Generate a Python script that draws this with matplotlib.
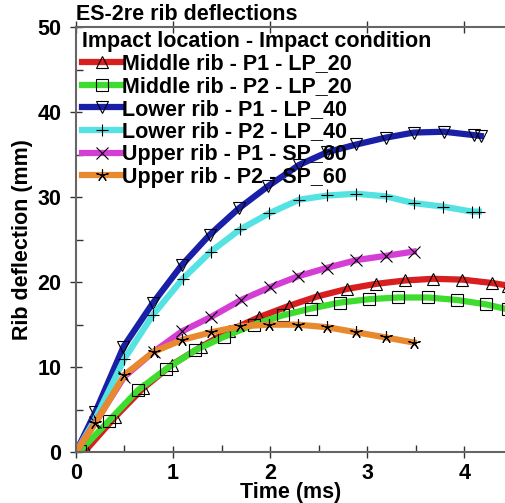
import numpy as np
import matplotlib.pyplot as plt
from matplotlib.ticker import MultipleLocator

# Series (time in ms, deflection in mm)
t_mid_p1 = [0.0, 0.10, 0.40, 0.69, 0.99, 1.29, 1.58, 1.89, 2.19, 2.48, 2.79, 3.09, 3.39, 3.68, 3.98, 4.29, 4.45]
d_mid_p1 = [0.0, 0.2, 4.1, 7.5, 10.3, 12.4, 14.3, 15.9, 17.2, 18.3, 19.2, 19.8, 20.2, 20.4, 20.3, 19.9, 19.6]

t_mid_p2 = [0.0, 0.04, 0.34, 0.64, 0.93, 1.23, 1.53, 1.83, 2.13, 2.42, 2.72, 3.02, 3.32, 3.63, 3.93, 4.22, 4.45]
d_mid_p2 = [0.0, 0.1, 3.7, 7.3, 9.8, 12.0, 13.6, 15.0, 16.1, 16.9, 17.6, 18.0, 18.2, 18.2, 17.9, 17.4, 16.8]

t_low_p1 = [0.0, 0.20, 0.49, 0.79, 1.09, 1.38, 1.68, 1.98, 2.30, 2.59, 2.89, 3.19, 3.48, 3.79, 4.10, 4.17]
d_low_p1 = [0.0, 4.7, 12.4, 17.5, 22.0, 25.6, 28.7, 31.3, 33.8, 35.3, 36.2, 37.0, 37.6, 37.7, 37.3, 37.2]

t_low_p2 = [0.0, 0.19, 0.50, 0.79, 1.10, 1.39, 1.69, 1.99, 2.30, 2.59, 2.89, 3.19, 3.48, 3.78, 4.08, 4.15]
d_low_p2 = [0.0, 3.7, 11.0, 16.1, 20.4, 23.6, 26.2, 28.1, 29.7, 30.2, 30.4, 30.1, 29.3, 28.9, 28.3, 28.3]

t_up_p1 = [0.0, 0.20, 0.50, 0.80, 1.09, 1.39, 1.70, 2.00, 2.29, 2.59, 2.89, 3.19, 3.48]
d_up_p1 = [0.0, 3.5, 8.9, 11.8, 14.2, 15.9, 17.9, 19.4, 20.7, 21.7, 22.6, 23.1, 23.6]

t_up_p2 = [0.0, 0.20, 0.50, 0.80, 1.09, 1.39, 1.69, 1.99, 2.29, 2.59, 2.89, 3.19, 3.48]
d_up_p2 = [0.0, 3.4, 9.1, 11.8, 13.2, 14.1, 14.8, 15.0, 15.0, 14.7, 14.1, 13.5, 12.9]

series = [
    (t_mid_p1, d_mid_p1, 'Middle rib - P1 - LP_20', '#d81e1e', '^'),
    (t_mid_p2, d_mid_p2, 'Middle rib - P2 - LP_20', '#3ddc2e', 's'),
    (t_low_p1, d_low_p1, 'Lower rib - P1 - LP_40', '#1a1fa8', 'v'),
    (t_low_p2, d_low_p2, 'Lower rib - P2 - LP_40', '#55e2e2', '+'),
    (t_up_p1, d_up_p1, 'Upper rib - P1 - SP_60', '#d43ed4', 'x'),
    (t_up_p2, d_up_p2, 'Upper rib - P2 - SP_60', '#e8892e', (5, 2, 0)),
]

FS = 15.5

plt.rcParams['font.family'] = ['Liberation Sans', 'DejaVu Sans']
plt.rcParams['font.weight'] = 'bold'

fig = plt.figure(figsize=(5.06, 5.03), dpi=100)
ax = fig.add_axes([0.150, 0.101, 0.850, 0.845])

for t, d, label, color, mk in series:
    ax.plot(t, d, color=color, lw=4.5, label=label, marker=mk,
            markevery=list(range(1, len(t))), markersize=9,
            markerfacecolor='none', markeredgecolor='black', markeredgewidth=0.8)

ax.set_xlim(0, 4.43)
ax.set_ylim(0, 50)
ax.xaxis.set_major_locator(MultipleLocator(1))
ax.xaxis.set_minor_locator(MultipleLocator(0.5))
ax.yaxis.set_major_locator(MultipleLocator(10))
ax.yaxis.set_minor_locator(MultipleLocator(5))
ax.tick_params(which='major', direction='inout', length=9, width=1, color='#333333',
               labelsize=FS, top=True)
ax.tick_params(which='minor', direction='in', length=5, width=1, color='#333333')
ax.tick_params(axis='x', which='major', pad=3)
ax.tick_params(axis='y', which='major', pad=6)
for lab in ax.get_xticklabels() + ax.get_yticklabels():
    lab.set_fontweight('bold')

for side in ['left', 'bottom', 'top']:
    ax.spines[side].set_color('#666666')
    ax.spines[side].set_linewidth(1.5)
ax.spines['right'].set_visible(False)

ax.set_xlabel('Time (ms)', fontsize=FS, fontweight='bold', labelpad=-1)
ax.set_ylabel('Rib deflection (mm)', fontsize=FS, fontweight='bold', labelpad=3)
ax.set_title('ES-2re rib deflections', fontsize=FS, fontweight='bold', loc='left', pad=5)

leg = ax.legend(title='Impact location - Impact condition', loc='upper left',
                bbox_to_anchor=(-0.005, 1.012), frameon=False, fontsize=FS,
                title_fontproperties={'weight': 'bold', 'size': FS},
                handlelength=1.85, handletextpad=0.0, labelspacing=0.08,
                borderaxespad=0.2, borderpad=0.2)
leg._legend_box.align = 'left'
for txt in leg.get_texts():
    txt.set_fontweight('bold')

fig.savefig('out.png', dpi=100)
